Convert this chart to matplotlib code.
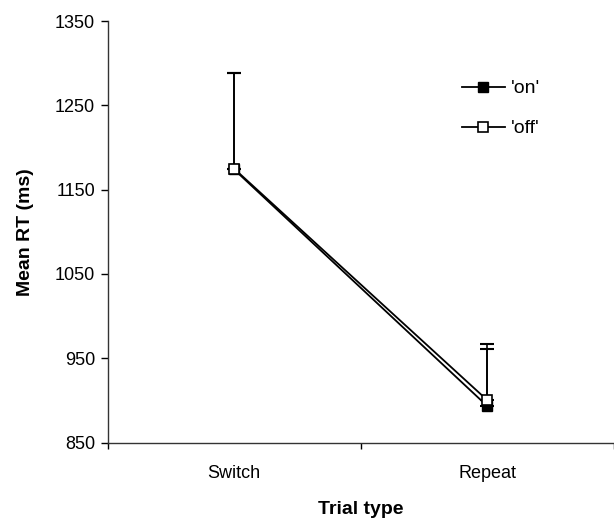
import numpy as np
import matplotlib.pyplot as plt

plt.rcParams['font.family'] = ['Liberation Sans', 'DejaVu Sans']

categories = ["Switch", "Repeat"]
rt_on = [1174, 893.5]
rt_off = [1175, 900.5]
err_on = [114, 73]
err_off = [113, 61]
yticks = [850, 950, 1050, 1150, 1250, 1350]


def main():
    fig = plt.figure(figsize=(6.14, 5.18), dpi=100)
    ax = fig.add_axes([107.5 / 614, 75.5 / 518, 506 / 614, 421.5 / 518])

    x = np.arange(len(categories))

    ax.errorbar(x, rt_on, yerr=[np.zeros(len(x)), err_on], fmt="none",
                ecolor="black", elinewidth=1.2, capsize=5, capthick=1.5, zorder=2)
    ax.errorbar(x, rt_off, yerr=[np.zeros(len(x)), err_off], fmt="none",
                ecolor="black", elinewidth=1.2, capsize=5, capthick=1.5, zorder=2)

    ax.plot(x, rt_on, color="black", lw=1.3, marker="s", ms=6.5,
            mfc="black", mec="black", label="'on'", zorder=3)
    ax.plot(x, rt_off, color="black", lw=1.3, marker="s", ms=6.5,
            mfc="white", mec="black", mew=1.2, label="'off'", zorder=4)

    ax.set_xlim(-0.5, 1.5)
    ax.set_ylim(850, 1350)
    ax.set_yticks(yticks)
    ax.set_xticks([-0.5, 0.5, 1.5])
    ax.set_xticklabels([])
    ax.set_xticks(x, minor=True)
    ax.set_xticklabels(categories, minor=True)
    ax.tick_params(axis="x", which="minor", length=0, pad=16, labelsize=13)
    ax.tick_params(axis="x", which="major", direction="out", length=4, width=1)
    ax.tick_params(axis="y", direction="out", length=5, width=1, labelsize=13, pad=4)

    for side in ["top", "right"]:
        ax.spines[side].set_visible(False)
    for side in ["left", "bottom"]:
        ax.spines[side].set_linewidth(1)
        ax.spines[side].set_color("#333333")

    ax.set_ylabel("Mean RT (ms)", fontsize=14, fontweight="bold", labelpad=15)
    ax.set_xlabel("Trial type", fontsize=14, fontweight="bold", labelpad=14)

    ax.legend(loc="upper left", bbox_to_anchor=(0.666, 0.902), frameon=False,
              fontsize=14, handlelength=2.2, labelspacing=1.15, handletextpad=0.3)

    fig.savefig("out.png", dpi=100)


if __name__ == "__main__":
    main()
